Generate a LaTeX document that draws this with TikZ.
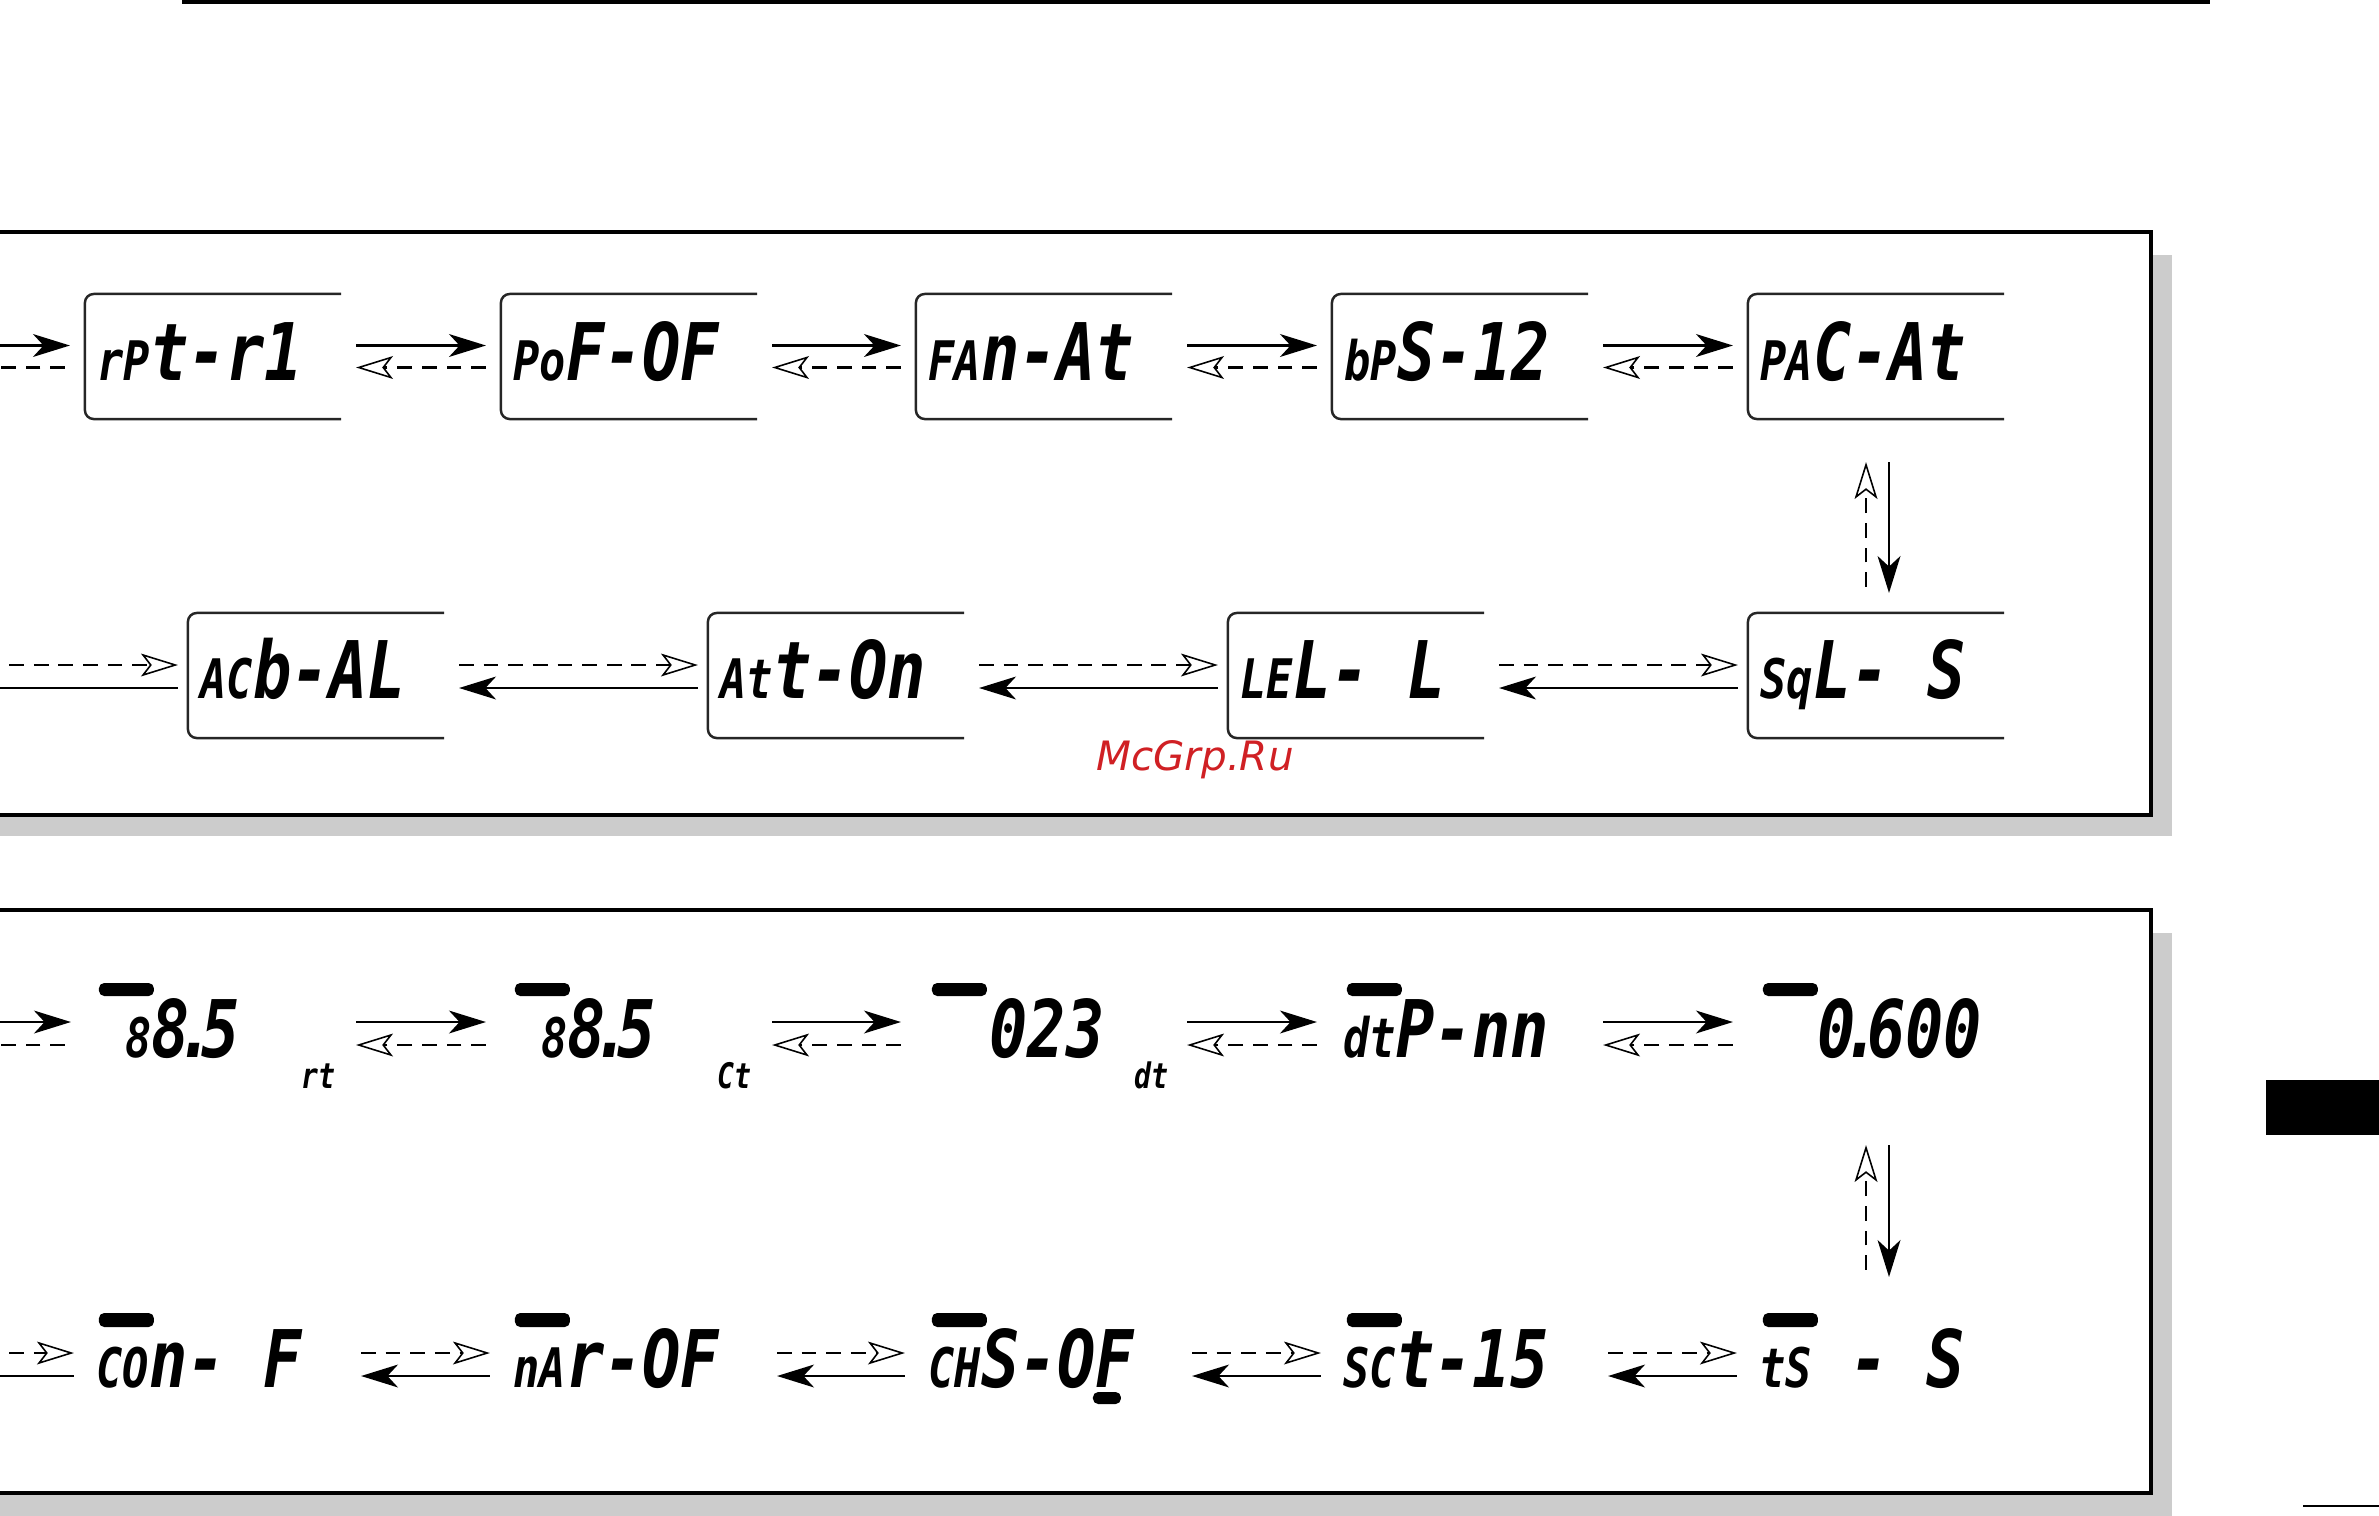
\documentclass[tikz,border=0pt]{standalone}
\usepackage{fontspec}
\usepackage{tikz}
\usetikzlibrary{arrows.meta}

\newfontfamily\lcdfont[FakeStretch=0.8]{DejaVu Sans Mono}
\newfontfamily\markfont{DejaVu Sans}
\definecolor{shadowgray}{RGB}{204,204,204}
\definecolor{markred}{RGB}{208,32,36}

\newcommand{\lcd}[2]{{\lcdfont\bfseries\itshape\fontsize{15.5}{17}\selectfont #1}{\lcdfont\bfseries\itshape\fontsize{22.6}{26}\selectfont #2}}
\newcommand{\lcdtag}[1]{{\lcdfont\bfseries\itshape\fontsize{10}{12}\selectfont #1}}
\newcommand{\lcdpt}{\kern-.17em.\kern-.17em}

\begin{document}
\begin{tikzpicture}[x=0.01cm, y=-0.01cm,
    lcdbox/.style={minimum width=2.56cm, minimum height=1.25cm, inner sep=0pt, outer sep=0pt},
    boxframe/.style={draw=black!85, line width=0.7pt, rounded corners=2.5pt},
    panel/.style={fill=white, draw=black, line width=1.2pt},
    panelshadow/.style={fill=shadowgray},
    fwd/.style={-{Stealth[length=10.5pt,width=6.5pt,inset=3pt]}, line width=0.65pt},
    bwd/.style={-{Stealth[open,length=10.5pt,width=6.5pt,inset=2.5pt,line width=0.45pt]}, line width=0.6pt, dash pattern=on 4.2pt off 2.8pt},
    lcdtext/.style={anchor=base west, inner sep=0pt},
    segbar/.style={fill=black, rounded corners=1.5pt}]
            \useasboundingbox (0,0) rectangle (2379,1515);

            % Page marks
            \draw[line width=1.15pt] (182,2) -- (2210,2);
            \fill (2266,1080) rectangle (2390,1135);
            \draw[line width=0.6pt] (2303,1506) -- (2390,1506);

            % Panels
            \fill[panelshadow] (-10,255) rectangle (2172,836);
            \draw[panel] (-10,232) rectangle (2151,815);
            \fill[panelshadow] (-10,933) rectangle (2172,1530);
            \draw[panel] (-10,910) rectangle (2151,1493);

            % Upper panel, first row
            \node[lcdbox] (rpt) at (213,356.5) {};
            \node[lcdbox] (pof) at (629,356.5) {};
            \node[lcdbox] (fan) at (1044,356.5) {};
            \node[lcdbox] (bps) at (1460,356.5) {};
            \node[lcdbox] (pac) at (1876,356.5) {};

            % Upper panel, second row
            \node[lcdbox] (sqt) at (1876,675.5) {};
            \node[lcdbox] (lel) at (1356,675.5) {};
            \node[lcdbox] (att) at (836,675.5) {};
            \node[lcdbox] (acb) at (316,675.5) {};

            % Open frames
            \draw[boxframe] (rpt.north east) -- (rpt.north west) -- (rpt.south west) -- (rpt.south east);
            \draw[boxframe] (pof.north east) -- (pof.north west) -- (pof.south west) -- (pof.south east);
            \draw[boxframe] (fan.north east) -- (fan.north west) -- (fan.south west) -- (fan.south east);
            \draw[boxframe] (bps.north east) -- (bps.north west) -- (bps.south west) -- (bps.south east);
            \draw[boxframe] (pac.north east) -- (pac.north west) -- (pac.south west) -- (pac.south east);
            \draw[boxframe] (sqt.north east) -- (sqt.north west) -- (sqt.south west) -- (sqt.south east);
            \draw[boxframe] (lel.north east) -- (lel.north west) -- (lel.south west) -- (lel.south east);
            \draw[boxframe] (att.north east) -- (att.north west) -- (att.south west) -- (att.south east);
            \draw[boxframe] (acb.north east) -- (acb.north west) -- (acb.south west) -- (acb.south east);

            % Display readouts
            \node[lcdtext] (rptx) at ([shift={(12,23.5)}]rpt.west) {\lcd{rP}{t-r1}};
            \node[lcdtext] (pofx) at ([shift={(12,23.5)}]pof.west) {\lcd{Po}{F-OF}};
            \node[lcdtext] (fanx) at ([shift={(12,23.5)}]fan.west) {\lcd{FA}{n-At}};
            \node[lcdtext] (bpsx) at ([shift={(12,23.5)}]bps.west) {\lcd{bP}{S-12}};
            \node[lcdtext] (pacx) at ([shift={(12,23.5)}]pac.west) {\lcd{PA}{C-At}};
            \node[lcdtext] (sqtx) at ([shift={(12,22.5)}]sqt.west) {\lcd{Sq}{L-~S}};
            \node[lcdtext] (lelx) at ([shift={(12,22.5)}]lel.west) {\lcd{LE}{L-~L}};
            \node[lcdtext] (attx) at ([shift={(12,22.5)}]att.west) {\lcd{At}{t-On}};
            \node[lcdtext] (acbx) at ([shift={(12,22.5)}]acb.west) {\lcd{AC}{b-AL}};

            % Arrows, first row
            \coordinate (in1) at (-40,345.5);
            \coordinate (out1) at (-40,367.5);
            \draw[fwd] (in1) -- ([shift={(-15,-11)}]rpt.west);
            \draw[bwd] ([shift={(-20,11)}]rpt.west) -- (out1);
            \draw[fwd] ([shift={(15,-11)}]rpt.east) -- ([shift={(-15,-11)}]pof.west);
            \draw[bwd] ([shift={(-15,11)}]pof.west) -- ([shift={(15,11)}]rpt.east);
            \draw[fwd] ([shift={(15,-11)}]pof.east) -- ([shift={(-15,-11)}]fan.west);
            \draw[bwd] ([shift={(-15,11)}]fan.west) -- ([shift={(15,11)}]pof.east);
            \draw[fwd] ([shift={(15,-11)}]fan.east) -- ([shift={(-15,-11)}]bps.west);
            \draw[bwd] ([shift={(-15,11)}]bps.west) -- ([shift={(15,11)}]fan.east);
            \draw[fwd] ([shift={(15,-11)}]bps.east) -- ([shift={(-15,-11)}]pac.west);
            \draw[bwd] ([shift={(-15,11)}]pac.west) -- ([shift={(15,11)}]bps.east);

            % Turn down
            \draw[bwd] ([shift={(-10,-26)}]sqt.north) -- ([shift={(-10,43)}]pac.south);
            \draw[fwd] ([shift={(13,43)}]pac.south) -- ([shift={(13,-20)}]sqt.north);

            % Arrows, second row
            \coordinate (in2) at (-40,665);
            \coordinate (out2) at (-40,688);
            \draw[bwd] ([shift={(15,-10.5)}]lel.east) -- ([shift={(-10,-10.5)}]sqt.west);
            \draw[fwd] ([shift={(-10,12.5)}]sqt.west) -- ([shift={(15,12.5)}]lel.east);
            \draw[bwd] ([shift={(15,-10.5)}]att.east) -- ([shift={(-10,-10.5)}]lel.west);
            \draw[fwd] ([shift={(-10,12.5)}]lel.west) -- ([shift={(15,12.5)}]att.east);
            \draw[bwd] ([shift={(15,-10.5)}]acb.east) -- ([shift={(-10,-10.5)}]att.west);
            \draw[fwd] ([shift={(-10,12.5)}]att.west) -- ([shift={(15,12.5)}]acb.east);
            \draw[bwd] (in2) -- ([shift={(-10,-10.5)}]acb.west);
            \draw[fwd] ([shift={(-10,12.5)}]acb.west) -- (out2);

            % Watermark
            \node[anchor=base, inner sep=0pt, text=markred, font=\markfont\itshape\fontsize{11.5}{13}\selectfont] (mark) at (1195,770) {McGrp.Ru};

            % Lower panel, first row
            \node[lcdbox] (rtn) at (213,1033.5) {};
            \node[lcdbox] (ctc) at (629,1033.5) {};
            \node[lcdbox] (dtc) at (1044,1033.5) {};
            \node[lcdbox] (dtp) at (1460,1033.5) {};
            \node[lcdbox] (ofs) at (1876,1033.5) {};

            % Lower panel, second row
            \node[lcdbox] (tsd) at (1876,1364.5) {};
            \node[lcdbox] (sct) at (1460,1364.5) {};
            \node[lcdbox] (chs) at (1044,1364.5) {};
            \node[lcdbox] (nar) at (629,1364.5) {};
            \node[lcdbox] (con) at (213,1364.5) {};

            % Indicator bars
            \fill[segbar] ([shift={(14,-50.5)}]rtn.west) rectangle ++(55,13);
            \fill[segbar] ([shift={(14,-50.5)}]ctc.west) rectangle ++(55,13);
            \fill[segbar] ([shift={(16,-50.5)}]dtc.west) rectangle ++(55,13);
            \fill[segbar] ([shift={(15,-50.5)}]dtp.west) rectangle ++(55,13);
            \fill[segbar] ([shift={(15,-50.5)}]ofs.west) rectangle ++(55,13);
            \fill[segbar] ([shift={(14,-51.5)}]con.west) rectangle ++(55,14);
            \fill[segbar] ([shift={(14,-51.5)}]nar.west) rectangle ++(55,14);
            \fill[segbar] ([shift={(16,-51.5)}]chs.west) rectangle ++(55,14);
            \fill[segbar] ([shift={(15,-51.5)}]sct.west) rectangle ++(55,14);
            \fill[segbar] ([shift={(15,-51.5)}]tsd.west) rectangle ++(55,14);
            \fill[segbar] ([shift={(177,27.5)}]chs.west) rectangle ++(28,12);

            % Readouts
            \node[lcdtext] (rtnx) at ([shift={(40,23.5)}]rtn.west) {\lcd{8}{8\lcdpt5}};
            \node[lcdtext] (ctcx) at ([shift={(40,23.5)}]ctc.west) {\lcd{8}{8\lcdpt5}};
            \node[lcdtext] (dtcx) at ([shift={(73,23.5)}]dtc.west) {\lcd{}{023}};
            \node[lcdtext] (dtpx) at ([shift={(11,23.5)}]dtp.west) {\lcd{dt}{P-nn}};
            \node[lcdtext] (ofsx) at ([shift={(69,23.5)}]ofs.west) {\lcd{}{0\lcdpt600}};
            \node[lcdtext] (rtnl) at ([shift={(216,54.5)}]rtn.west) {\lcdtag{rt}};
            \node[lcdtext] (ctcl) at ([shift={(216,54.5)}]ctc.west) {\lcdtag{Ct}};
            \node[lcdtext] (dtcl) at ([shift={(218,54.5)}]dtc.west) {\lcdtag{dt}};
            \node[lcdtext] (conx) at ([shift={(11,22.5)}]con.west) {\lcd{CO}{n-~F}};
            \node[lcdtext] (narx) at ([shift={(12,22.5)}]nar.west) {\lcd{nA}{r-OF}};
            \node[lcdtext] (chsx) at ([shift={(12,22.5)}]chs.west) {\lcd{CH}{S-OF}};
            \node[lcdtext] (sctx) at ([shift={(11,22.5)}]sct.west) {\lcd{SC}{t-15}};
            \node[lcdtext] (tsdx) at ([shift={(11,22.5)}]tsd.west) {\lcd{tS}{~-~S}};

            % Arrows, first row
            \coordinate (in3) at (-40,1022);
            \coordinate (out3) at (-40,1045);
            \draw[fwd] (in3) -- ([shift={(-14,-11.5)}]rtn.west);
            \draw[bwd] ([shift={(-20,11.5)}]rtn.west) -- (out3);
            \draw[fwd] ([shift={(15,-11.5)}]rtn.east) -- ([shift={(-15,-11.5)}]ctc.west);
            \draw[bwd] ([shift={(-15,11.5)}]ctc.west) -- ([shift={(15,11.5)}]rtn.east);
            \draw[fwd] ([shift={(15,-11.5)}]ctc.east) -- ([shift={(-15,-11.5)}]dtc.west);
            \draw[bwd] ([shift={(-15,11.5)}]dtc.west) -- ([shift={(15,11.5)}]ctc.east);
            \draw[fwd] ([shift={(15,-11.5)}]dtc.east) -- ([shift={(-15,-11.5)}]dtp.west);
            \draw[bwd] ([shift={(-15,11.5)}]dtp.west) -- ([shift={(15,11.5)}]dtc.east);
            \draw[fwd] ([shift={(15,-11.5)}]dtp.east) -- ([shift={(-15,-11.5)}]ofs.west);
            \draw[bwd] ([shift={(-15,11.5)}]ofs.west) -- ([shift={(15,11.5)}]dtp.east);

            % Turn down
            \draw[bwd] ([shift={(-10,-32)}]tsd.north) -- ([shift={(-10,49)}]ofs.south);
            \draw[fwd] ([shift={(13,49)}]ofs.south) -- ([shift={(13,-25)}]tsd.north);

            % Arrows, second row
            \coordinate (in4) at (-40,1353);
            \coordinate (out4) at (-40,1376);
            \draw[bwd] ([shift={(20,-11.5)}]sct.east) -- ([shift={(-11,-11.5)}]tsd.west);
            \draw[fwd] ([shift={(-11,11.5)}]tsd.west) -- ([shift={(20,11.5)}]sct.east);
            \draw[bwd] ([shift={(20,-11.5)}]chs.east) -- ([shift={(-11,-11.5)}]sct.west);
            \draw[fwd] ([shift={(-11,11.5)}]sct.west) -- ([shift={(20,11.5)}]chs.east);
            \draw[bwd] ([shift={(20,-11.5)}]nar.east) -- ([shift={(-11,-11.5)}]chs.west);
            \draw[fwd] ([shift={(-11,11.5)}]chs.west) -- ([shift={(20,11.5)}]nar.east);
            \draw[bwd] ([shift={(20,-11.5)}]con.east) -- ([shift={(-11,-11.5)}]nar.west);
            \draw[fwd] ([shift={(-11,11.5)}]nar.west) -- ([shift={(20,11.5)}]con.east);
            \draw[bwd] (in4) -- ([shift={(-11,-11.5)}]con.west);
            \draw[fwd] ([shift={(-11,11.5)}]con.west) -- (out4);
        \end{tikzpicture}
\end{document}
